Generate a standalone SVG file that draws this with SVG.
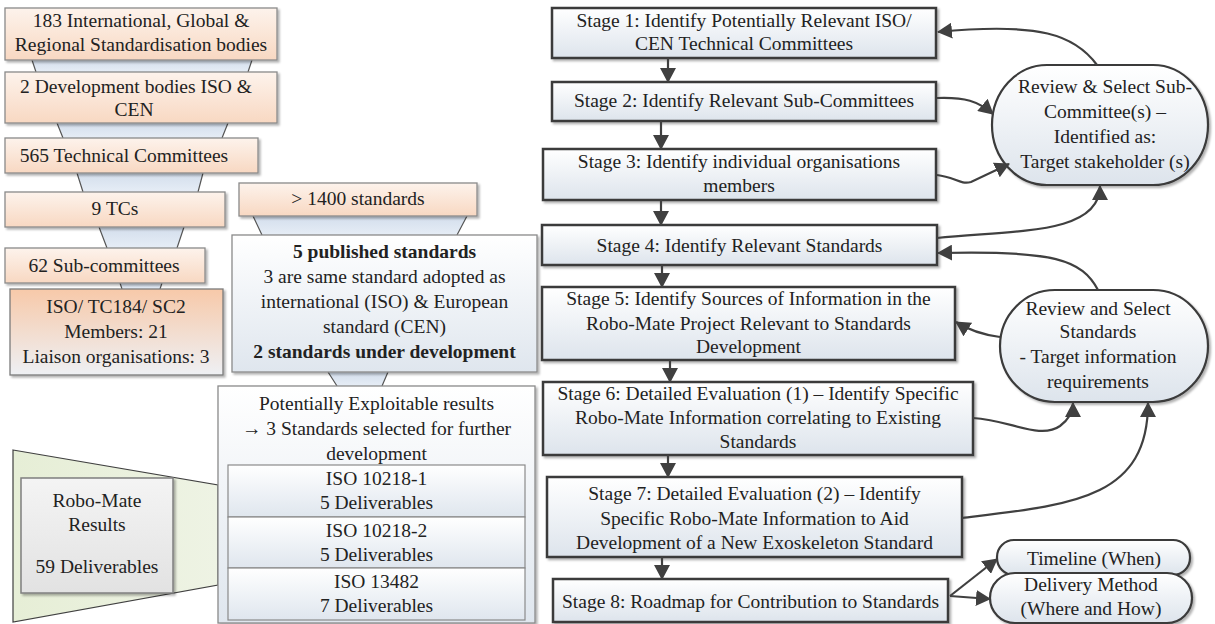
<svg xmlns="http://www.w3.org/2000/svg" width="1215" height="624" viewBox="0 0 1215 624" font-family="'Liberation Serif', Tinos, 'DejaVu Serif', serif">
<style>
.t{font-family:'Liberation Serif',Tinos,'DejaVu Serif',serif;font-size:19.5px;fill:#222;text-anchor:middle}
.b{font-weight:bold}
.peach{fill:url(#gPeach);stroke:#8a8a8a;stroke-width:1.3;filter:url(#sh)}
.orange{fill:url(#gOrange);stroke:#7a7a7a;stroke-width:1.3;filter:url(#sh)}
.blue{fill:url(#gBlue);stroke:#8a8a8a;stroke-width:1.3;filter:url(#sh)}
.inner{fill:url(#gBlue);stroke:#8a8a8a;stroke-width:1.2}
.grey{fill:url(#gGrey);stroke:#7f7f7f;stroke-width:1.5;filter:url(#sh)}
.stage{fill:url(#gStage);stroke:#3a3a3a;stroke-width:2.5;filter:url(#sh)}
.oval{fill:url(#gStage);stroke:#3a3a3a;stroke-width:2.2;filter:url(#sh)}
.trap{fill:url(#gTrap);stroke:none}
.edge{stroke:#555;stroke-width:1.2;fill:none}
.conn{fill:none;stroke:#404040;stroke-width:2.2;marker-end:url(#ah)}
</style>
<defs>
<linearGradient id="gPeach" x1="0" y1="0" x2="0" y2="1"><stop offset="0" stop-color="#fdf3ec"/><stop offset="1" stop-color="#f8d8c2"/></linearGradient>
<linearGradient id="gOrange" x1="0" y1="0" x2="0" y2="1"><stop offset="0" stop-color="#f7c9a9"/><stop offset="1" stop-color="#eef0f4"/></linearGradient>
<linearGradient id="gBlue" x1="0" y1="0" x2="0" y2="1"><stop offset="0" stop-color="#ffffff"/><stop offset="1" stop-color="#dfe6ee"/></linearGradient>
<linearGradient id="gGrey" x1="0" y1="0" x2="0" y2="1"><stop offset="0" stop-color="#f4f4f4"/><stop offset="1" stop-color="#e2e2e2"/></linearGradient>
<linearGradient id="gStage" x1="0" y1="0" x2="0" y2="1"><stop offset="0" stop-color="#ffffff"/><stop offset="1" stop-color="#dde4ec"/></linearGradient>
<linearGradient id="gTrap" x1="0" y1="0" x2="0" y2="1"><stop offset="0" stop-color="#d3deec"/><stop offset="1" stop-color="#e6edf6"/></linearGradient>
<linearGradient id="gGreen" x1="0" y1="0" x2="1" y2="0"><stop offset="0" stop-color="#e6eed6"/><stop offset="1" stop-color="#eef3e4"/></linearGradient>
<filter id="sh" x="-5%" y="-5%" width="115%" height="130%"><feDropShadow dx="2" dy="2" stdDeviation="1.2" flood-color="#000" flood-opacity="0.3"/></filter>
<marker id="ah" markerUnits="userSpaceOnUse" markerWidth="15" markerHeight="16" viewBox="0 0 15 16" refX="14" refY="8" orient="auto"><path d="M0,0 L15,8 L0,16 z" fill="#404040"/></marker>
</defs>
<rect width="1215" height="624" fill="#ffffff"/>

<g id="funnel-links">
<path class="trap" d="M32,60 L252,60 L248,72 L36,72 Z"/><path class="edge" d="M32,60 L36,72 M252,60 L248,72"/>
<path class="trap" d="M57,123 L228,123 L222,138 L63,138 Z"/><path class="edge" d="M57,123 L63,138 M228,123 L222,138"/>
<path class="trap" d="M77,173 L203,173 L198,192 L83,192 Z"/><path class="edge" d="M77,173 L83,192 M203,173 L198,192"/>
<path class="trap" d="M99,227 L184,227 L177,248 L107,248 Z"/><path class="edge" d="M99,227 L107,248 M184,227 L177,248"/>
<path class="trap" d="M120,283 L162,283 L160,289 L122,289 Z"/><path class="edge" d="M120,283 L122,289 M162,283 L160,289"/>
<path class="trap" d="M253,216 L467,216 L457,235 L262,235 Z"/><path class="edge" d="M253,216 L262,235 M467,216 L457,235"/>
<path class="trap" d="M328,372 L388,372 L382,386 L337,386 Z"/><path class="edge" d="M328,372 L337,386 M388,372 L382,386"/>
</g>

<g id="n-bodies"><rect class="peach" x="5" y="8" width="272" height="52"/>
<text class="t" x="141" y="27">183 International, Global &amp;</text><text class="t" x="141" y="51">Regional Standardisation bodies</text></g>
<g id="n-dev"><rect class="peach" x="5" y="72" width="272" height="51"/>
<text class="t" x="136" y="93">2 Development bodies ISO &amp;</text><text class="t" x="134" y="116">CEN</text></g>
<g id="n-tc"><rect class="peach" x="5" y="138" width="253" height="35"/>
<text class="t" x="124" y="162">565 Technical Committees</text></g>
<g id="n-9tc"><rect class="peach" x="5" y="192" width="220" height="35"/>
<text class="t" x="115" y="215">9 TCs</text></g>
<g id="n-sub"><rect class="peach" x="5" y="248" width="200" height="35"/>
<text class="t" x="104" y="272">62 Sub-committees</text></g>
<g id="n-sc2"><rect class="orange" x="10" y="289" width="213" height="86"/>
<text class="t" x="116" y="313">ISO/ TC184/ SC2</text><text class="t" x="116" y="338">Members: 21</text><text class="t" x="116" y="363">Liaison organisations: 3</text></g>

<g id="n-1400"><rect class="peach" x="239" y="183" width="238" height="33"/>
<text class="t" x="358" y="205">&gt; 1400 standards</text></g>
<g id="n-published"><rect class="blue" x="232" y="235" width="305" height="137"/>
<text class="t b" x="384.5" y="258">5 published standards</text>
<text class="t" x="384.5" y="283">3 are same standard adopted as</text>
<text class="t" x="384.5" y="308">international (ISO) &amp; European</text>
<text class="t" x="384.5" y="333">standard (CEN)</text>
<text class="t b" x="384.5" y="358">2 standards under development</text></g>

<g id="n-robomate">
<path d="M13,450 L218,485 L218,585 L13,622 Z" fill="url(#gGreen)" stroke="#404040" stroke-width="1.2"/>
<rect class="grey" x="21" y="478" width="152" height="115"/>
<text class="t" x="97" y="507">Robo-Mate</text><text class="t" x="97" y="531">Results</text><text class="t" x="97" y="573">59 Deliverables</text></g>

<g id="n-exploitable"><rect class="blue" x="218" y="386" width="317" height="237"/>
<text class="t" x="376.5" y="410">Potentially Exploitable results</text>
<text class="t" x="376.5" y="435">→  3 Standards selected for further</text>
<text class="t" x="376.5" y="460">development</text></g>
<g id="n-iso1"><rect class="inner" x="228" y="465" width="297" height="52"/>
<text class="t" x="376.5" y="485">ISO 10218-1</text><text class="t" x="376.5" y="509">5 Deliverables</text></g>
<g id="n-iso2"><rect class="inner" x="228" y="517" width="297" height="51"/>
<text class="t" x="376.5" y="537">ISO 10218-2</text><text class="t" x="376.5" y="561">5 Deliverables</text></g>
<g id="n-iso3"><rect class="inner" x="228" y="568" width="297" height="52"/>
<text class="t" x="376.5" y="588">ISO 13482</text><text class="t" x="376.5" y="612">7 Deliverables</text></g>

<g id="n-s1"><rect class="stage" x="552" y="8" width="384" height="50"/>
<text class="t" x="744" y="27">Stage 1: Identify Potentially Relevant ISO/</text><text class="t" x="744" y="50">CEN Technical Committees</text></g>
<g id="n-s2"><rect class="stage" x="552" y="82" width="384" height="39"/>
<text class="t" x="744" y="107">Stage 2: Identify Relevant Sub-Committees</text></g>
<g id="n-s3"><rect class="stage" x="543" y="149" width="393" height="51"/>
<text class="t" x="739" y="168">Stage 3: Identify individual organisations</text><text class="t" x="739" y="192">members</text></g>
<g id="n-s4"><rect class="stage" x="542" y="225" width="395" height="40"/>
<text class="t" x="739.5" y="252">Stage 4: Identify Relevant Standards</text></g>
<g id="n-s5"><rect class="stage" x="542" y="287" width="413" height="73"/>
<text class="t" x="748.5" y="305">Stage 5: Identify Sources of Information in the</text>
<text class="t" x="748.5" y="330">Robo-Mate Project Relevant to Standards</text>
<text class="t" x="748.5" y="353">Development</text></g>
<g id="n-s6"><rect class="stage" x="543" y="382" width="430" height="73"/>
<text class="t" x="758" y="400">Stage 6: Detailed Evaluation (1) – Identify Specific</text>
<text class="t" x="758" y="424">Robo-Mate Information correlating to Existing</text>
<text class="t" x="758" y="448">Standards</text></g>
<g id="n-s7"><rect class="stage" x="547" y="477" width="415" height="80"/>
<text class="t" x="754.5" y="500">Stage 7: Detailed Evaluation (2) – Identify</text>
<text class="t" x="754.5" y="525">Specific Robo-Mate Information to Aid</text>
<text class="t" x="754.5" y="549">Development of a New Exoskeleton Standard</text></g>
<g id="n-s8"><rect class="stage" x="553" y="579" width="395" height="43"/>
<text class="t" x="750.5" y="608">Stage 8: Roadmap for Contribution to Standards</text></g>

<g id="n-review1"><rect class="oval" x="992" y="65" width="216" height="120" rx="55" ry="60"/>
<text class="t" x="1105" y="93">Review &amp; Select Sub-</text>
<text class="t" x="1105" y="118">Committee(s) –</text>
<text class="t" x="1105" y="143">Identified as:</text>
<text class="t" x="1105" y="168">Target stakeholder (s)</text></g>
<g id="n-review2"><rect class="oval" x="1000" y="290" width="208" height="112" rx="55" ry="56"/>
<text class="t" x="1098" y="315">Review and Select</text>
<text class="t" x="1098" y="338">Standards</text>
<text class="t" x="1098" y="363">- Target information</text>
<text class="t" x="1098" y="388">requirements</text></g>
<g id="n-timeline"><rect class="oval" x="997" y="540" width="193" height="35" rx="17" ry="17"/>
<text class="t" x="1094" y="565">Timeline (When)</text></g>
<g id="n-delivery"><rect class="oval" x="990" y="573" width="202" height="50" rx="25" ry="25"/>
<text class="t" x="1091" y="591">Delivery Method</text>
<text class="t" x="1091" y="615">(Where and How)</text></g>

<g id="connectors">
<path class="conn" d="M668,58 L668,82"/>
<path class="conn" d="M661,121 L661,149"/>
<path class="conn" d="M661,200 L661,225"/>
<path class="conn" d="M662,265 L662,287"/>
<path class="conn" d="M670,360 L670,382"/>
<path class="conn" d="M668,455 L668,477"/>
<path class="conn" d="M662,557 L662,579"/>
<path class="conn" d="M1097,65 C1075,35 1040,22 938,32"/>
<path class="conn" d="M937,98 C965,97 978,101 993,114"/>
<path class="conn" d="M937,175 C955,177 960,185 971,182 L1009,164"/>
<path class="conn" d="M937,238 C1010,230 1100,236 1100,186"/>
<path class="conn" d="M1098,290 C1082,260 1055,250 938,253"/>
<path class="conn" d="M1000,337 C985,335 970,331 956,322"/>
<path class="conn" d="M973,418 C1010,420 1040,440 1060,426 C1068,420 1073,412 1073,403"/>
<path class="conn" d="M962,518 C1070,505 1148,500 1148,403"/>
<path class="conn" d="M950,596 L997,559"/>
<path class="conn" d="M950,596 L990,599"/>
</g>
</svg>
